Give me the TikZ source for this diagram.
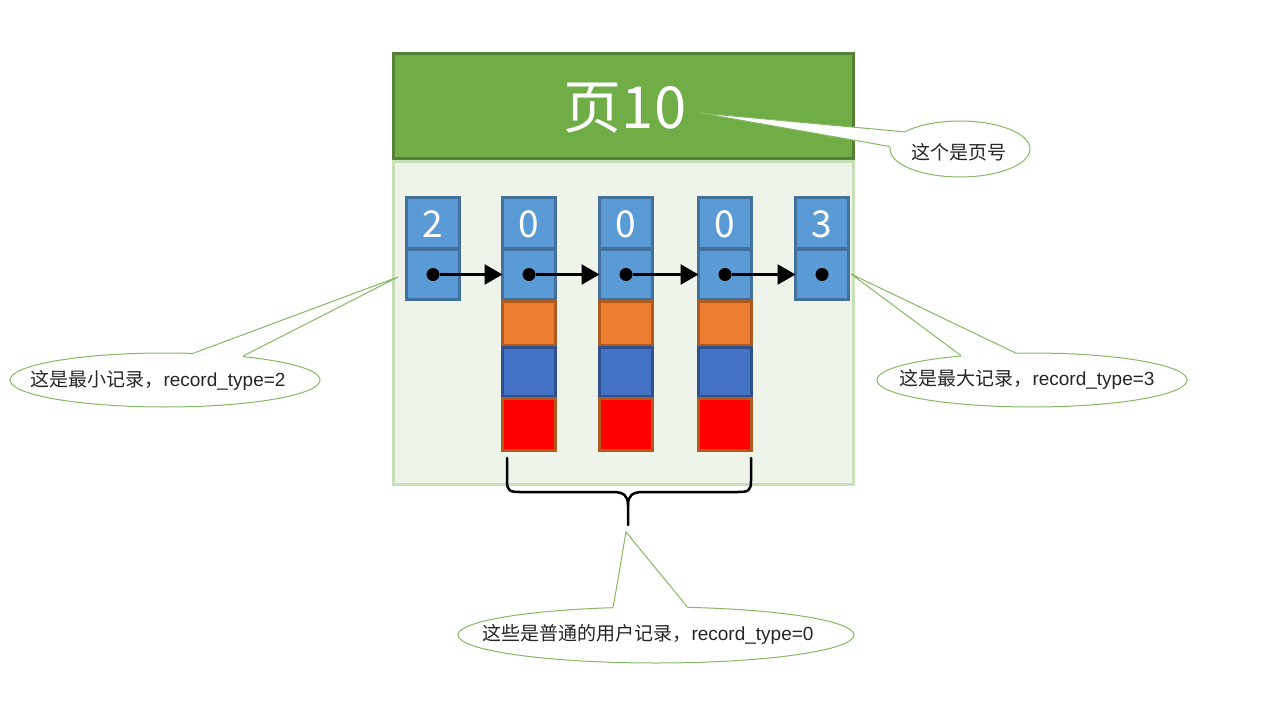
\documentclass[tikz,border=0pt]{standalone}
\usepackage{fontspec}
\setmainfont{Noto Sans CJK SC}
\newfontfamily\latinsf{Liberation Sans}
\usetikzlibrary{arrows.meta,shapes.geometric}
\definecolor{hdrfill}{HTML}{70AD47}
\definecolor{hdrline}{HTML}{548235}
\definecolor{bodyfill}{HTML}{EEF4E9}
\definecolor{bodyline}{HTML}{C8E0B8}
\definecolor{cellblue}{HTML}{5B9BD5}
\definecolor{cellblueline}{HTML}{41719C}
\definecolor{cellorange}{HTML}{ED7D31}
\definecolor{cellorangeline}{HTML}{AE5A21}
\definecolor{celldark}{HTML}{4472C4}
\definecolor{celldarkline}{HTML}{2F528F}
\definecolor{cellred}{HTML}{FF0000}
\definecolor{callline}{HTML}{86B865}
\begin{document}
\begin{tikzpicture}[x=1pt,y=-1pt,
  cellbox/.style={line width=3pt, minimum width=53pt, outer sep=0pt, inner sep=0pt},
  bluecell/.style={cellbox, draw=cellblueline, fill=cellblue},
  orangecell/.style={cellbox, draw=cellorangeline, fill=cellorange},
  darkcell/.style={cellbox, draw=celldarkline, fill=celldark},
  redcell/.style={cellbox, draw=cellorangeline, fill=cellred},
  numtext/.style={text=white, font=\fontsize{37}{40}\selectfont},
  dotnode/.style={circle, fill=black, minimum size=13pt, inner sep=0pt, outer sep=0pt},
  linkarrow/.style={line width=2.5pt, -{Triangle[length=18pt,width=20pt]}},
  callshape/.style={ellipse, draw=callline, fill=white, line width=1pt, inner sep=0pt},
  calledge/.style={draw=callline, line width=1pt},
  calltext/.style={font=\fontsize{19}{22}\selectfont, text=black!85, inner sep=0pt}
]
\useasboundingbox (0,0) rectangle (1264,722);

% page body and header
\node[draw=bodyline, fill=bodyfill, line width=3pt, minimum width=460pt, minimum height=323pt, inner sep=0pt, outer sep=0pt] (body) at (623.5,323) {};
\node[draw=hdrline, fill=hdrfill, line width=3pt, minimum width=460pt, minimum height=105pt, inner sep=0pt, outer sep=0pt] (hdr) at (623.5,106) {};
\node[text=white, font=\fontsize{58}{60}\selectfont, inner sep=0pt] (title) at (625,108) {页10};

% record columns
\foreach \i/\x/\n in {1/433/2, 2/529/0, 3/626/0, 4/725/0, 5/822/3} {
  \node[bluecell, minimum height=51pt] (c\i-1) at (\x,223) {};
  \node[numtext] (n\i) at (\x,224) {\n};
  \node[bluecell, minimum height=49pt] (c\i-2) at (\x,274.5) {};
}
\foreach \i/\x in {2/529, 3/626, 4/725} {
  \node[orangecell, minimum height=44pt] (c\i-3) at (\x,323.5) {};
  \node[darkcell, minimum height=49pt] (c\i-4) at (\x,372) {};
  \node[redcell, minimum height=52pt] (c\i-5) at (\x,424.5) {};
}
\foreach \i/\x in {1/433, 2/529, 3/626, 4/725, 5/822} {
  \node[dotnode] (d\i) at (\x,274.5) {};
}
\draw[linkarrow] (d1) -- (d1 -| c2-2.west);
\draw[linkarrow] (d2) -- (d2 -| c3-2.west);
\draw[linkarrow] (d3) -- (d3 -| c4-2.west);
\draw[linkarrow] (d4) -- (d4 -| c5-2.west);

% brace
\coordinate (braceL) at (507,458);
\coordinate (braceR) at (751,458);
\coordinate (braceTip) at (628,525);
\draw[line width=2.5pt, line cap=round, line join=round]
  (braceL) -- (507,481) .. controls (507,491) and (510,492) .. (520,492) -- (613,492)
  .. controls (624,492) and (628,496) .. (628,505) -- (braceTip);
\draw[line width=2.5pt, line cap=round, line join=round]
  (braceR) -- (751,481) .. controls (751,491) and (748,492) .. (738,492) -- (643,492)
  .. controls (632,492) and (628,496) .. (628,505);

% callouts
\coordinate (tipT) at (700,113);
\coordinate (tipL) at (398,277);
\coordinate (tipR) at (851,274);
\coordinate (tipB) at (626,532);

\node[callshape, minimum width=140pt, minimum height=56pt] (tc) at (960,149) {};
\fill[white] (tipT) -- (tc.163) -- (tc.178) -- cycle;
\draw[white, line width=2pt] (tc.163) -- (tc.178);
\draw[calledge] (tc.163) -- (tipT) -- (tc.178);
\node[calltext] (tt) at (959,152) {这个是页号};

\node[callshape, minimum width=310pt, minimum height=54pt] (lc) at (165,380) {};
\fill[white] (tipL) -- (lc.43) -- (lc.17) -- cycle;
\draw[white, line width=2pt] (lc.43) -- (lc.17);
\draw[calledge] (lc.43) -- (tipL) -- (lc.17);
\node[calltext] (lt) at (158,380) {这是最小记录，{\latinsf record\_type=2}};

\node[callshape, minimum width=310pt, minimum height=54pt] (rc) at (1032,380) {};
\fill[white] (tipR) -- (rc.122) -- (rc.161) -- cycle;
\draw[white, line width=2pt] (rc.122) -- (rc.161);
\draw[calledge] (rc.122) -- (tipR) -- (rc.161);
\node[calltext] (rt) at (1027,379) {这是最大记录，{\latinsf record\_type=3}};

\node[callshape, minimum width=396pt, minimum height=56pt] (bc) at (656,635) {};
\fill[white] (tipB) -- (bc.147) -- (bc.42) -- cycle;
\draw[white, line width=2pt] (bc.147) -- (bc.42);
\draw[calledge] (bc.147) -- (tipB) -- (bc.42);
\node[calltext] (bt) at (648,634) {这些是普通的用户记录，{\latinsf record\_type=0}};
\end{tikzpicture}
\end{document}
